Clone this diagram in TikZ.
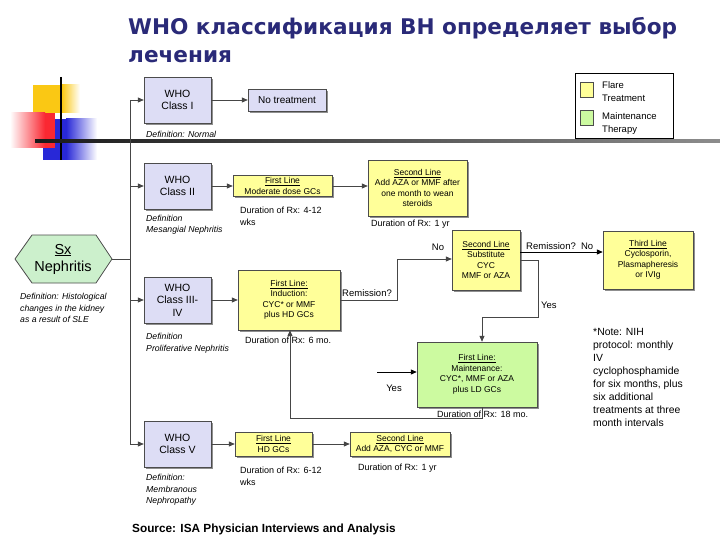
\documentclass[tikz,border=0pt]{standalone}
\usepackage{fontspec}
\setmainfont{Liberation Sans}
\newfontfamily\titlefont{DejaVu Sans}
\usetikzlibrary{arrows.meta,shadows,calc}
\definecolor{lav}{RGB}{221,221,245}
\definecolor{yel}{RGB}{255,255,153}
\definecolor{grn}{RGB}{204,250,160}
\definecolor{hexg}{RGB}{204,240,204}
\definecolor{navy}{RGB}{42,42,120}
\definecolor{gold}{RGB}{250,200,20}
\definecolor{bl}{RGB}{40,40,215}
\definecolor{rd}{RGB}{250,40,50}
\definecolor{lineg}{RGB}{70,70,70}
\begin{document}
\begin{tikzpicture}[x=1pt,y=-1pt,
  shad/.style={drop shadow={shadow xshift=2pt,shadow yshift=-2pt,fill=black!55,opacity=0.8}},
  who/.style={draw=black!70,fill=lav,shad,minimum width=67pt,minimum height=46pt,inner sep=1pt,align=center,font=\fontsize{10.5}{12.5}\selectfont},
  ybox/.style={draw=black!70,fill=yel,shad,inner sep=1pt,align=center,font=\fontsize{8.5}{10.5}\selectfont},
  gbox/.style={ybox,fill=grn},
  deftext/.style={anchor=west,align=left,inner sep=0pt,font=\fontsize{8.7}{11.5}\selectfont\itshape},
  durtext/.style={anchor=west,align=left,inner sep=0pt,font=\fontsize{9}{12}\selectfont},
  lbl/.style={inner sep=0pt,font=\fontsize{9.5}{11}\selectfont},
  conn/.style={draw=lineg,line width=0.8pt},
  arr/.style={conn,-{Triangle[length=6pt,width=5pt]}},
  strongarr/.style={draw=black,line width=1pt,-{Triangle[length=6pt,width=5pt]}},
]
\useasboundingbox (0,0) rectangle (720,540);
\fill[white] (0,0) rectangle (720,540);

% decoration
\fill[gold] (33,85) rectangle (62,113);
\shade[left color=gold,right color=white] (62,85) rectangle (80,113);
\fill[bl] (43,119) rectangle (66,160);
\shade[left color=bl,right color=white] (66,119) rectangle (97,160);
\shade[left color=white,right color=rd] (10,113) rectangle (45,148);
\fill[rd] (45,113) rectangle (55,148);
\draw[black,line width=2pt] (61,77) -- (61,160);
\shade[left color=black!90,right color=black!45] (35,140) rectangle (720,142.5);

% title
\node[anchor=base west,inner sep=0pt,text=navy,font=\titlefont\bfseries\fontsize{21.6}{26}\selectfont] (t1) at (128,35) {WHO классификация ВН определяет выбор};
\node[anchor=base west,inner sep=0pt,text=navy,font=\titlefont\bfseries\fontsize{21.6}{26}\selectfont] (t2) at (128,63) {лечения};

% legend
\node[draw=black,fill=white,minimum width=98pt,minimum height=65pt,inner sep=0pt] (leg) at (624,105.5) {};
\node[draw=black!70,fill=yel,minimum width=13pt,minimum height=15pt,inner sep=0pt] (lsq1) at (586.5,89.5) {};
\node[anchor=west,align=left,inner sep=0pt,font=\fontsize{9.5}{12.5}\selectfont] (lt1) at (602,91.5) {Flare\\Treatment};
\node[draw=black!70,fill=grn,minimum width=13pt,minimum height=15pt,inner sep=0pt] (lsq2) at (586.5,117.5) {};
\node[anchor=west,align=left,inner sep=0pt,font=\fontsize{9.5}{12.5}\selectfont] (lt2) at (602,123.5) {Maintenance\\Therapy};

% hexagon
\filldraw[draw=black!70,fill=hexg,line width=0.8pt] (15,259) -- (32,235) -- (96,235) -- (112,259) -- (96,283) -- (32,283) -- cycle;
\node[align=center,inner sep=0pt,font=\fontsize{14.5}{17}\selectfont] (sx) at (63,259) {\underline{Sx}\\Nephritis};
\coordinate (hexR) at (112,259);
\node[deftext] (sxdef) at (20,308) {Definition: Histological\\changes in the kidney\\as a result of SLE};

% WHO boxes
\node[who] (c1) at (177.5,100) {WHO\\Class I};
\node[who] (c2) at (177.5,186) {WHO\\Class II};
\node[who] (c34) at (177.5,300) {WHO\\Class III-\\IV};
\node[who] (c5) at (177.5,444) {WHO\\Class V};
\node[deftext] (d1) at (146,134) {Definition: Normal};
\node[deftext] (d2) at (146,225) {Definition\\Mesangial Nephritis};
\node[deftext] (d34) at (146,343) {Definition\\Proliferative Nephritis};
\node[deftext] (d5) at (146,490) {Definition:\\Membranous\\Nephropathy};

% trunk
\coordinate (ttop) at (130,100);
\coordinate (tbot) at (130,444);
\draw[conn] (hexR) -- (hexR -| ttop);
\draw[conn] (ttop) -- (tbot);
\draw[arr] (ttop) -- (c1.west);
\draw[arr] (ttop |- c2.west) -- (c2.west);
\draw[arr] (ttop |- c34.west) -- (c34.west);
\draw[arr] (tbot) -- (c5.west);

% class I
\node[draw=black!70,fill=lav,shad,minimum width=78pt,minimum height=22pt,inner sep=1pt,font=\fontsize{10}{12}\selectfont] (nt) at (287,100) {No treatment};
\draw[arr] (c1.east) -- (nt.west);

% class II
\node[ybox,minimum width=99pt,minimum height=21pt] (fl2) at (282.5,186) {\underline{First Line}\\Moderate dose GCs};
\node[ybox,minimum width=99pt,minimum height=56pt] (sl2) at (417.5,188) {\underline{Second Line}\\Add AZA or MMF after\\one month to wean\\steroids};
\draw[arr] (c2.east) -- (fl2.west);
\draw[arr] (fl2.east) -- (fl2.east -| sl2.west);
\node[durtext] (du2a) at (240,216) {Duration of Rx: 4-12\\wks};
\node[durtext] (du2b) at (371,224) {Duration of Rx: 1 yr};

% class III-IV
\node[ybox,minimum width=102pt,minimum height=60pt] (ind) at (289,300) {\underline{First Line:}\\Induction:\\CYC* or MMF\\plus HD GCs};
\draw[arr] (c34.east) -- (ind.west);
\node[durtext] (du3) at (245,340) {Duration of Rx: 6 mo.};
\node[ybox,minimum width=68pt,minimum height=60pt] (sub) at (486,260) {\underline{Second Line}\\Substitute\\CYC\\MMF or AZA};
\node[ybox,minimum width=90pt,minimum height=58pt] (third) at (648,260) {\underline{Third Line}\\Cyclosporin,\\Plasmapheresis\\or IVIg};
\node[gbox,minimum width=120pt,minimum height=65pt] (maint) at (477,374.5) {\underline{First Line:}\\Maintenance:\\CYC*, MMF or AZA\\plus LD GCs};
\node[durtext] (du4) at (437,414) {Duration of Rx: 18 mo.};

\coordinate (rq) at (397,300);
\coordinate (rq2) at (397,259);
\draw[conn] (ind.east) -- (rq) -- (rq2);
\draw[arr] (rq2) -- (rq2 -| sub.west);
\node[lbl,anchor=south west] (lrem) at (342,297) {Remission?};
\node[lbl,anchor=south] (lno) at (438,251) {No};

\coordinate (s3) at ($(sub.east)+(0,-8)$);
\draw[strongarr] (s3) -- (s3 -| third.west);
\node[lbl,anchor=south west] (lrem2) at (526,250) {Remission?\ \ No};

\coordinate (yA) at (538,260);
\coordinate (yB) at (538,317);
\coordinate (yC) at (482,317);
\draw[conn] (sub.east) -- (yA) -- (yB) -- (yC);
\draw[arr] (yC) -- (yC |- maint.north);
\node[lbl,anchor=west] (lyes) at (541,305) {Yes};

\coordinate (yesL) at (377,372);
\draw[strongarr] (yesL) -- (yesL -| maint.west);
\node[lbl] (lyes2) at (394,388) {Yes};

\coordinate (lp1) at (482,418);
\coordinate (lp2) at (290,418);
\draw[conn] (maint.south -| lp1) -- (lp1) -- (lp2);
\draw[arr] (lp2) -- (lp2 |- ind.south);

% class V
\node[ybox,minimum width=77pt,minimum height=24pt] (fl5) at (273.5,444) {\underline{First Line}\\HD GCs};
\node[ybox,minimum width=100pt,minimum height=24pt] (sl5) at (400,444) {\underline{Second Line}\\Add AZA, CYC or MMF};
\draw[arr] (c5.east) -- (fl5.west);
\draw[arr] (fl5.east) -- (sl5.west);
\node[durtext] (du5a) at (240,476) {Duration of Rx: 6-12\\wks};
\node[durtext] (du5b) at (358,468) {Duration of Rx: 1 yr};

% note
\node[anchor=north west,align=left,inner sep=0pt,font=\fontsize{10.4}{13}\selectfont] (note) at (593,328) {*Note: NIH\\protocol: monthly\\IV\\cyclophosphamide\\for six months, plus\\six additional\\treatments at three\\month intervals};

% source
\node[anchor=base west,inner sep=0pt,font=\bfseries\fontsize{11.8}{13}\selectfont] (src) at (132,532) {Source: ISA Physician Interviews and Analysis};
\end{tikzpicture}
\end{document}
